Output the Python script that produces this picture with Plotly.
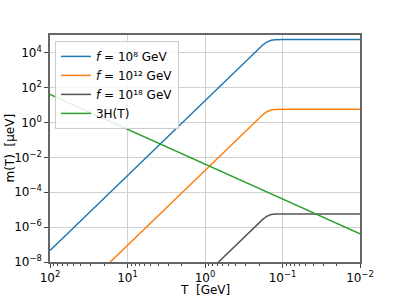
import plotly.graph_objects as go

# Temperature grid [GeV]
T = [100, 30, 10, 3, 1, 0.5, 0.3, 0.25, 0.2, 0.18, 0.16, 0.14, 0.125, 0.11, 0.1, 0.03, 0.01]
# axion mass [micro-eV]
m_f8 = [4.57e-8, 8.1e-6, 9.1e-4, 0.162, 18.2, 355, 3240, 7060, 18400, 27900, 41300,
        52700, 56200, 57300, 57400, 57500, 57500]
m_f12 = [4.57e-12, 8.1e-10, 9.1e-8, 1.62e-5, 1.82e-3, 0.0355, 0.324, 0.706, 1.84, 2.79,
         4.13, 5.27, 5.62, 5.73, 5.74, 5.75, 5.75]
m_f18 = [4.57e-18, 8.1e-16, 9.1e-14, 1.62e-11, 1.82e-9, 3.55e-8, 3.24e-7, 7.06e-7, 1.84e-6,
         2.79e-6, 4.13e-6, 5.27e-6, 5.62e-6, 5.73e-6, 5.74e-6, 5.75e-6, 5.75e-6]
T_H = [100, 10, 1, 0.1, 0.01]
H3 = [40.7, 0.407, 4.07e-3, 4.07e-5, 4.07e-7]

series_names = ["<i>f</i> = 10⁸ GeV", "<i>f</i> = 10¹² GeV",
                "<i>f</i> = 10¹⁸ GeV", "3H(T)"]
colors = ["#1f77b4", "#ff7f0e", "#555555", "#2ca02c"]

x_tickvals = [100, 10, 1, 0.1, 0.01]
x_ticktext = ["10<sup>2</sup>", "10<sup>1</sup>", "10<sup>0</sup>", "10<sup>−1</sup>", "10<sup>−2</sup>"]
y_tickvals = [1e4, 1e2, 1, 1e-2, 1e-4, 1e-6, 1e-8]
y_ticktext = ["10<sup>4</sup>", "10<sup>2</sup>", "10<sup>0</sup>", "10<sup>−2</sup>",
              "10<sup>−4</sup>", "10<sup>−6</sup>", "10<sup>−8</sup>"]
x_title = "T  [GeV]"
y_title = "m(T)  [μeV]"

minor_x = [k * 10 ** e for e in (-2, -1, 0, 1) for k in range(2, 10)]

fig = go.Figure()
for ys, name, c in zip([m_f8, m_f12, m_f18], series_names[:3], colors[:3]):
    fig.add_trace(go.Scatter(x=T, y=ys, mode="lines", name=name,
                             line=dict(color=c, width=1.5)))
fig.add_trace(go.Scatter(x=T_H, y=H3, mode="lines", name=series_names[3],
                         line=dict(color=colors[3], width=1.5)))

axis_common = dict(showline=True, linecolor="#666666", linewidth=1.5, mirror=True,
                   showgrid=True, gridcolor="#d0d0d0", gridwidth=1,
                   ticks="outside", ticklen=4, tickcolor="#444444",
                   tickfont=dict(family="DejaVu Sans", size=12, color="black"),
                   zeroline=False, automargin=False)

fig.update_xaxes(type="log", range=[2, -2], tickvals=x_tickvals, ticktext=x_ticktext,
                 minor=dict(tickvals=minor_x, ticks="outside", ticklen=2, tickcolor="#444444",
                            showgrid=False),
                 **axis_common)
fig.update_yaxes(type="log", range=[-8, 5.02], tickvals=y_tickvals, ticktext=y_ticktext,
                 **axis_common)

title_font = dict(family="DejaVu Sans", size=12, color="black")
fig.add_annotation(text=x_title, xref="paper", yref="paper", x=0.5, y=0,
                   xanchor="center", yanchor="top", yshift=-19, showarrow=False,
                   font=title_font)
fig.add_annotation(text=y_title, xref="paper", yref="paper", x=0, y=0.5,
                   xanchor="center", yanchor="middle", xshift=-41, textangle=-90,
                   showarrow=False, font=title_font)

fig.update_layout(
    width=400, height=300,
    margin=dict(l=50, r=40, t=35, b=38),
    paper_bgcolor="white", plot_bgcolor="white",
    font=dict(family="DejaVu Sans", size=12, color="black"),
    legend=dict(x=0.016, y=0.974, xanchor="left", yanchor="top",
                bgcolor="rgba(255,255,255,0.85)", bordercolor="#cccccc", borderwidth=1,
                font=dict(family="DejaVu Sans", size=12, color="black"),
                itemwidth=30, tracegroupgap=0),
    showlegend=True,
)

fig.write_html("out.html", config={"displayModeBar": False},
               post_script="document.body.style.margin='0px';")
